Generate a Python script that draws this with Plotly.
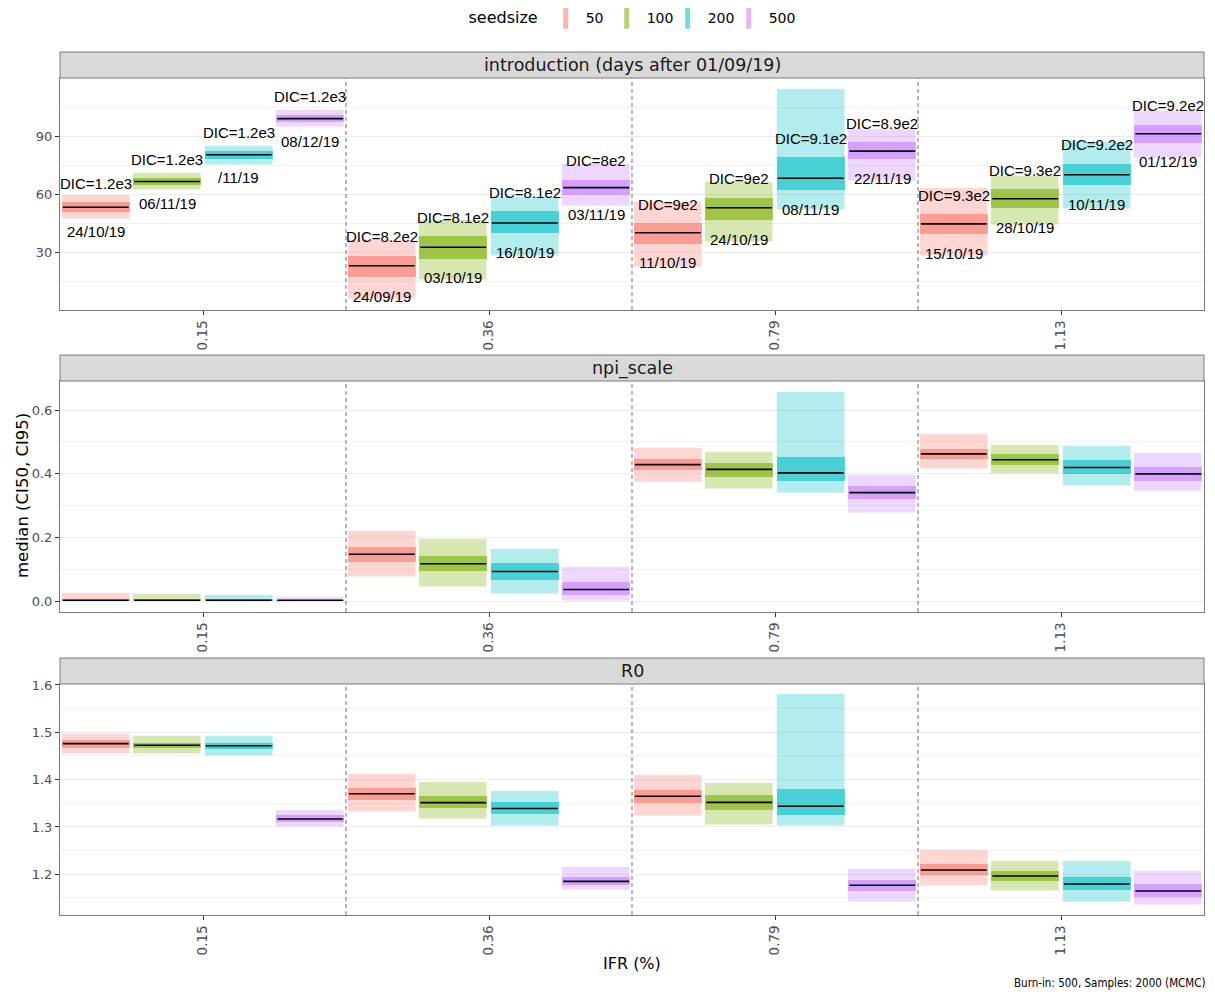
import plotly.graph_objects as go

# ---------------- data ----------------
ifr_labels = ["0.15", "0.36", "0.79", "1.13"]
seedsizes = ["50", "100", "200", "500"]
colors = ["#F8766D", "#7CAE00", "#00BFC4", "#C77CFF"]
panel_titles = ["introduction (days after 01/09/19)", "npi_scale", "R0"]

# values indexed [ifr][seedsize]
intro_ci95_lo = [[47.1, 62.1, 75.0, 94.8], [5.7, 16.0, 28.4, 53.8], [22.4, 35.3, 52.2, 67.2], [28.4, 44.0, 52.6, 79.0]]
intro_ci50_lo = [[50.8, 65.0, 78.5, 97.4], [17.2, 26.7, 40.0, 59.5], [34.5, 46.6, 62.1, 78.1], [39.3, 52.9, 64.7, 86.8]]
intro_median = [[53.4, 66.7, 80.5, 99.2], [23.1, 32.7, 45.2, 63.5], [40.2, 53.1, 68.4, 82.4], [44.8, 57.8, 70.2, 91.4]]
intro_ci50_hi = [[56.0, 68.4, 82.4, 100.9], [28.4, 38.3, 51.2, 67.6], [45.2, 58.3, 79.3, 87.1], [49.7, 62.6, 75.9, 96.1]]
intro_ci95_hi = [[59.5, 71.2, 85.2, 103.5], [36.6, 46.6, 58.6, 75.5], [56.0, 66.4, 114.7, 94.0], [63.5, 69.5, 87.1, 103.1]]

npi_ci95_lo = [[0.0, 0.0, 0.0, 0.0], [0.078, 0.044, 0.023, 0.0], [0.375, 0.353, 0.340, 0.277], [0.416, 0.398, 0.362, 0.346]]
npi_ci50_lo = [[0.002, 0.002, 0.002, 0.002], [0.125, 0.094, 0.068, 0.019], [0.412, 0.389, 0.378, 0.321], [0.448, 0.427, 0.399, 0.378]]
npi_median = [[0.004, 0.004, 0.004, 0.004], [0.148, 0.118, 0.094, 0.0375], [0.429, 0.414, 0.403, 0.341], [0.4625, 0.444, 0.420, 0.400]]
npi_ci50_hi = [[0.008, 0.007, 0.007, 0.006], [0.172, 0.143, 0.121, 0.0616], [0.447, 0.433, 0.452, 0.362], [0.479, 0.4615, 0.443, 0.420]]
npi_ci95_hi = [[0.026, 0.023, 0.020, 0.015], [0.221, 0.196, 0.166, 0.108], [0.4825, 0.468, 0.657, 0.396], [0.524, 0.490, 0.487, 0.466]]

r0_ci95_lo = [[1.4548, 1.4535, 1.449, 1.300], [1.3323, 1.3175, 1.302, 1.1675], [1.3232, 1.304, 1.3027, 1.142], [1.1753, 1.1654, 1.142, 1.135]]
r0_ci50_lo = [[1.4669, 1.467, 1.4647, 1.310], [1.357, 1.3394, 1.3268, 1.1774], [1.3506, 1.336, 1.326, 1.1654], [1.1985, 1.185, 1.166, 1.152]]
r0_median = [[1.476, 1.4726, 1.4717, 1.3168], [1.370, 1.3514, 1.339, 1.185], [1.3648, 1.352, 1.3437, 1.1768], [1.209, 1.1964, 1.1795, 1.1647]]
r0_ci50_hi = [[1.4838, 1.478, 1.478, 1.3247], [1.383, 1.366, 1.3534, 1.195], [1.378, 1.367, 1.380, 1.188], [1.2218, 1.2076, 1.1943, 1.179]]
r0_ci95_hi = [[1.4964, 1.4916, 1.4916, 1.335], [1.4113, 1.3944, 1.376, 1.2148], [1.4092, 1.3923, 1.580, 1.2118], [1.2513, 1.228, 1.2275, 1.207]]

dic_labels = [["DIC=1.2e3", "DIC=1.2e3", "DIC=1.2e3", "DIC=1.2e3"],
              ["DIC=8.2e2", "DIC=8.1e2", "DIC=8.1e2", "DIC=8e2"],
              ["DIC=9e2", "DIC=9e2", "DIC=9.1e2", "DIC=8.9e2"],
              ["DIC=9.3e2", "DIC=9.3e2", "DIC=9.2e2", "DIC=9.2e2"]]
date_labels = [["24/10/19", "06/11/19", "/11/19", "08/12/19"],
               ["24/09/19", "03/10/19", "16/10/19", "03/11/19"],
               ["11/10/19", "24/10/19", "08/11/19", "22/11/19"],
               ["15/10/19", "28/10/19", "10/11/19", "01/12/19"]]

y_ranges = [[0.25, 120.2], [-0.033, 0.691], [1.114, 1.602]]
y_major = [[30, 60, 90], [0.0, 0.2, 0.4, 0.6], [1.2, 1.3, 1.4, 1.5, 1.6]]
y_minor = [[15, 45, 75, 105], [0.1, 0.3, 0.5], [1.15, 1.25, 1.35, 1.45, 1.55]]
y_fmt = [None, ".1f", ".1f"]

panels = [
    (intro_ci95_lo, intro_ci50_lo, intro_median, intro_ci50_hi, intro_ci95_hi),
    (npi_ci95_lo, npi_ci50_lo, npi_median, npi_ci50_hi, npi_ci95_hi),
    (r0_ci95_lo, r0_ci50_lo, r0_median, r0_ci50_hi, r0_ci95_hi),
]

# ---------------- layout geometry (page pixels; page body has an 8px margin) ----------------
OFF = 8
W, H = 1215 - OFF, 994 - OFF
ML, MR, MT, MB = 60 - OFF, 11, 78 - OFF, 79
plot_w = W - ML - MR
plot_h = H - MT - MB
panel_px = [(78, 310), (381, 612), (684, 915)]   # page top, bottom of each panel
strip_h = 26


def py(p):
    return (H - MB - (p - OFF)) / plot_h


def px(p):
    return (p - OFF - ML) / plot_w


dodge = 0.25
bar_w = 0.238
med_half = 0.115


def rgba(hexc, a):
    h = hexc.lstrip("#")
    return "rgba(%d,%d,%d,%s)" % (int(h[0:2], 16), int(h[2:4], 16), int(h[4:6], 16), a)


fig = go.Figure()
annotations = []
shapes = []

for p, (lo95, lo50, med, hi50, hi95) in enumerate(panels):
    xa = "x" if p == 0 else "x%d" % (p + 1)
    ya = "y" if p == 0 else "y%d" % (p + 1)
    for j, s in enumerate(seedsizes):
        xs = [i + 1 + (j - 1.5) * dodge for i in range(len(ifr_labels))]
        fig.add_trace(go.Bar(
            x=xs, y=[hi95[i][j] - lo95[i][j] for i in range(4)], base=[lo95[i][j] for i in range(4)],
            width=bar_w, marker=dict(color=rgba(colors[j], 0.3), line=dict(width=0.6, color="rgba(255,255,255,0.6)")),
            xaxis=xa, yaxis=ya, showlegend=False, hoverinfo="skip"))
        fig.add_trace(go.Bar(
            x=xs, y=[hi50[i][j] - lo50[i][j] for i in range(4)], base=[lo50[i][j] for i in range(4)],
            width=bar_w, marker=dict(color=rgba(colors[j], 0.6), line=dict(width=0)),
            xaxis=xa, yaxis=ya, showlegend=False, hoverinfo="skip"))
        lx, ly = [], []
        for i in range(4):
            lx += [xs[i] - med_half, xs[i] + med_half, None]
            ly += [med[i][j], med[i][j], None]
        fig.add_trace(go.Scatter(x=lx, y=ly, mode="lines", line=dict(color="black", width=1.6),
                                 xaxis=xa, yaxis=ya, showlegend=False, hoverinfo="skip"))
        if p == 0:
            for i in range(4):
                annotations.append(dict(x=xs[i], y=hi50[i][j], xref=xa, yref=ya, text=dic_labels[i][j],
                                        showarrow=False, xanchor="center", yanchor="middle", yshift=19,
                                        font=dict(family="Liberation Sans", size=15, color="black")))
                annotations.append(dict(x=xs[i], y=lo50[i][j], xref=xa, yref=ya, text=date_labels[i][j],
                                        showarrow=False, xanchor="center", yanchor="middle", yshift=-19,
                                        font=dict(family="Liberation Sans", size=15, color="black")))
    # dashed separators
    for k in range(1, len(ifr_labels)):
        shapes.append(dict(type="line", xref=xa, yref=ya + " domain", x0=k + 0.5, x1=k + 0.5, y0=0, y1=1,
                           line=dict(color="#6E6E6E", width=1, dash="4px,3px"), layer="above"))
    # strip
    top, bot = panel_px[p]
    shapes.append(dict(type="rect", xref="paper", yref="paper", x0=0, x1=1, y0=py(top), y1=py(top - strip_h),
                       fillcolor="#D9D9D9", line=dict(color="#7A7A7A", width=1), layer="above"))
    annotations.append(dict(x=0.5, y=py(top - strip_h / 2), xref="paper", yref="paper", text=panel_titles[p],
                            showarrow=False, xanchor="center", yanchor="middle",
                            font=dict(size=17.5, color="#1A1A1A")))

    axis_x = dict(range=[0.5, 4.5], tickvals=[1, 2, 3, 4], ticktext=ifr_labels, tickangle=-90,
                  showgrid=False, zeroline=False, showline=True, mirror=True, linecolor="#7A7A7A", linewidth=1,
                  ticks="outside", ticklen=4, tickcolor="#333333", tickfont=dict(size=13.5, color="#4D4D4D"),
                  anchor=ya)
    axis_y = dict(range=y_ranges[p], tickvals=y_major[p], showgrid=True, gridcolor="#EBEBEB", gridwidth=1,
                  zeroline=False, showline=True, mirror=True, linecolor="#7A7A7A", linewidth=1,
                  ticks="outside", ticklen=4, tickcolor="#333333", tickfont=dict(size=13, color="#4D4D4D"),
                  minor=dict(tickvals=y_minor[p], showgrid=True, gridcolor="#F2F2F2", gridwidth=1, ticklen=0),
                  domain=[py(bot), py(top)], anchor=xa)
    if y_fmt[p]:
        axis_y["tickformat"] = y_fmt[p]
    if p == 0:
        fig.update_layout(xaxis=axis_x, yaxis=axis_y)
    else:
        fig.update_layout(**{"xaxis%d" % (p + 1): axis_x, "yaxis%d" % (p + 1): axis_y})

# legend entries
for j, s in enumerate(seedsizes):
    fig.add_trace(go.Scatter(x=[None], y=[None], mode="markers", name=s,
                             marker=dict(symbol="line-ns", size=17, color=rgba(colors[j], 0.55),
                                         line=dict(width=6, color=rgba(colors[j], 0.55)))))
# blank trailing legend slot so the last label is not clipped by the fixed entry width
fig.add_trace(go.Scatter(x=[None], y=[None], mode="markers", name=" ",
                         marker=dict(size=1, color="rgba(0,0,0,0)", line=dict(width=0))))

annotations.append(dict(x=px(22), y=py(496), xref="paper", yref="paper", text="median (CI50, CI95)",
                        textangle=-90, showarrow=False, xanchor="center", yanchor="middle",
                        font=dict(size=16.5, color="black")))
annotations.append(dict(x=0.5, y=py(963), xref="paper", yref="paper", text="IFR (%)",
                        showarrow=False, xanchor="center", yanchor="middle", font=dict(size=16, color="black")))
annotations.append(dict(x=1, y=py(983), xref="paper", yref="paper", text="Burn-in: 500, Samples: 2000 (MCMC)",
                        xanchor="right", yanchor="middle", xshift=3, showarrow=False,
                        font=dict(family="DejaVu Sans Condensed", size=11.5, color="black")))

fig.update_layout(
    width=W, height=H, margin=dict(l=ML, r=MR, t=MT, b=MB, autoexpand=False),
    paper_bgcolor="white", plot_bgcolor="white",
    barmode="overlay", bargap=0,
    font=dict(family="DejaVu Sans", color="black"),
    annotations=annotations, shapes=shapes,
    legend=dict(orientation="h", x=px(659), xanchor="center", y=py(18), yanchor="middle",
                title=dict(text="seedsize", font=dict(size=16), side="left"),
                font=dict(size=14), entrywidth=16, entrywidthmode="pixels",
                bgcolor="rgba(0,0,0,0)"),
)

fig.write_html("out.html")
